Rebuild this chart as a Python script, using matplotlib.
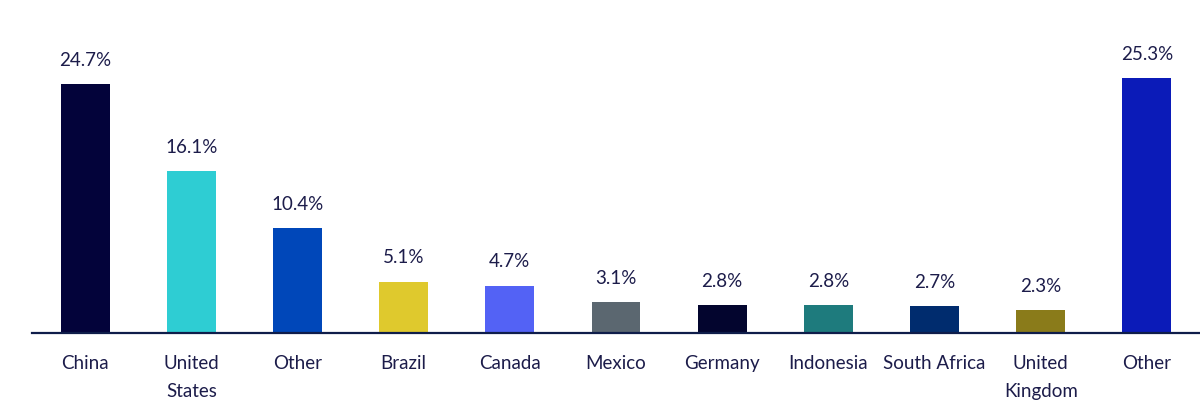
import matplotlib.pyplot as plt

labels = ['China', 'United\nStates', 'Other', 'Brazil', 'Canada', 'Mexico',
          'Germany', 'Indonesia', 'South Africa', 'United\nKingdom', 'Other']
values = [24.7, 16.1, 10.4, 5.1, 4.7, 3.1, 2.8, 2.8, 2.7, 2.3, 25.3]
colors = ['#03033a', '#2ecdd3', '#0047b9', '#dfc92d', '#5362f5', '#5b6770',
          '#03052e', '#1e7b7d', '#002c6e', '#8a7b1a', '#0b1bb8']

txt = '#1c1c4a'
plt.rcParams['font.family'] = ['Lato', 'DejaVu Sans']

fig = plt.figure(figsize=(12, 4.13), dpi=100)
ax = fig.add_axes([32 / 1200, 80 / 413, 1168 / 1200, 302 / 413])

x = list(range(len(values)))
bars = ax.bar(x, values, width=0.46, color=colors)

# value labels above the bars
for b, v in zip(bars, values):
    ax.annotate(f'{v}%', (b.get_x() + b.get_width() / 2, v), xytext=(0, 11),
                textcoords='offset points', ha='center', va='bottom',
                fontsize=13.5, color=txt)

ax.set_xlim(-0.5, 10.5)
ax.set_ylim(0, 30)
ax.set_xticks(x)
ax.set_xticklabels(labels, fontsize=13.5, color=txt, linespacing=1.75)
ax.tick_params(axis='x', length=0, pad=16)
ax.set_yticks([])
for s in ['top', 'right', 'left']:
    ax.spines[s].set_visible(False)
ax.spines['bottom'].set_color('#0f1d4a')
ax.spines['bottom'].set_linewidth(1.6)

fig.savefig('out.png', dpi=100)
